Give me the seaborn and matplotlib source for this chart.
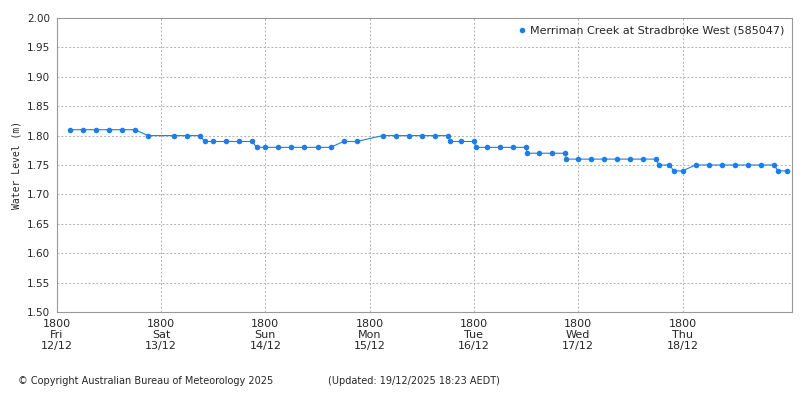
import numpy as np
import pandas as pd
import seaborn as sns
import matplotlib.pyplot as plt

# hours after Fri 12/12/2025 18:00 and water level (m)
hours = [3, 6, 9, 12, 15, 18, 21, 27, 30, 33, 34, 36, 39, 42, 45, 46, 48, 51, 54, 57, 60, 63,
         66, 69, 75, 78, 81, 84, 87, 90, 90.5, 93, 96, 96.5, 99, 102, 105, 108, 108.3, 111,
         114, 117, 117.3, 120, 123, 126, 129, 132, 135, 138, 138.5, 141, 142, 144, 147, 150,
         153, 156, 159, 162, 165, 166, 168]
levels = [1.81, 1.81, 1.81, 1.81, 1.81, 1.81, 1.80, 1.80, 1.80, 1.80, 1.79, 1.79, 1.79, 1.79,
          1.79, 1.78, 1.78, 1.78, 1.78, 1.78, 1.78, 1.78, 1.79, 1.79, 1.80, 1.80, 1.80, 1.80,
          1.80, 1.80, 1.79, 1.79, 1.79, 1.78, 1.78, 1.78, 1.78, 1.78, 1.77, 1.77, 1.77, 1.77,
          1.76, 1.76, 1.76, 1.76, 1.76, 1.76, 1.76, 1.76, 1.75, 1.75, 1.74, 1.74, 1.75, 1.75,
          1.75, 1.75, 1.75, 1.75, 1.75, 1.74, 1.74]
day_labels = ["1800\nFri\n12/12", "1800\nSat\n13/12", "1800\nSun\n14/12", "1800\nMon\n15/12",
              "1800\nTue\n16/12", "1800\nWed\n17/12", "1800\nThu\n18/12"]

start = pd.Timestamp("2025-12-12 18:00")
df = pd.DataFrame({"time": [start + pd.Timedelta(hours=h) for h in hours], "level": levels})

sns.set_style("white")
plt.rcParams["font.family"] = ["DejaVu Sans"]
fig = plt.figure(figsize=(8, 4), dpi=100)
ax = fig.add_axes([0.071, 0.22, 0.919, 0.735])

sns.lineplot(data=df, x="time", y="level", ax=ax, color="#1a7fe8", lw=0.8,
             marker="o", markersize=4, markeredgewidth=0, label="Merriman Creek at Stradbroke West (585047)")

ax.set_xlim(start, start + pd.Timedelta(hours=169.2))
ax.set_ylim(1.5, 2.0)
ax.set_yticks(np.arange(1.5, 2.001, 0.05))
ax.set_yticklabels([f"{v:.2f}" for v in np.arange(1.5, 2.001, 0.05)], fontsize=7.5)
ticks = [start + pd.Timedelta(days=i) for i in range(7)]
ax.set_xticks(ticks)
ax.set_xticklabels(day_labels, fontsize=8, linespacing=1.15)
ax.grid(True, color="#b0b0b0", linestyle=(0, (2, 2)), lw=0.7)
for s in ax.spines.values():
    s.set_color("#999999")
    s.set_linewidth(0.8)
ax.tick_params(length=3, color="#999999", pad=2)
ax.set_xlabel("")
ax.set_ylabel("Water Level (m)", fontsize=7, family="DejaVu Sans Mono")
ax.legend(loc="upper right", frameon=False, fontsize=8, handletextpad=0.2,
          markerscale=1, handlelength=1, borderaxespad=0.3)
leg = ax.get_legend()
for h in leg.legend_handles:
    h.set_linestyle("")

fig.text(0.022, 0.04, "© Copyright Australian Bureau of Meteorology 2025", fontsize=7)
fig.text(0.41, 0.04, "(Updated: 19/12/2025 18:23 AEDT)", fontsize=7)

plt.savefig("out.png", dpi=100)
